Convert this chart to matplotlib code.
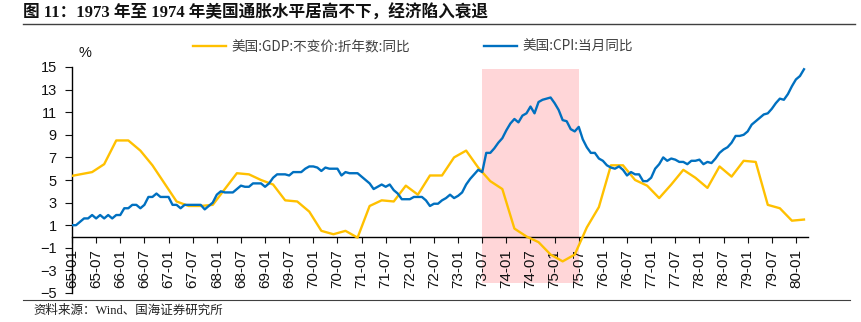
import matplotlib
matplotlib.use('Agg')
import matplotlib.pyplot as plt
from matplotlib.lines import Line2D

plt.rcParams['font.family'] = ['Liberation Sans', 'Noto Sans CJK SC', 'DejaVu Sans']
plt.rcParams['axes.unicode_minus'] = True

# fonts for the chinese text (title / legend / source)
cjk = ['Noto Sans CJK SC', 'DejaVu Sans']
serif_cjk = ['Liberation Serif', 'Noto Sans CJK SC', 'DejaVu Sans']

# us cpi, monthly yoy %, 1965-01 .. 1980-03 (one row per year)
cpi_yoy = [
    1.0, 1.0, 1.3, 1.6, 1.6, 1.9, 1.6, 1.9, 1.6, 1.9, 1.6, 1.9,
    1.9, 2.5, 2.5, 2.8, 2.8, 2.5, 2.8, 3.5, 3.5, 3.8, 3.5, 3.5,
    3.5, 2.8, 2.8, 2.5, 2.8, 2.8, 2.8, 2.8, 2.8, 2.4, 2.7, 3.0,
    3.7, 4.0, 3.9, 3.9, 3.9, 4.2, 4.5, 4.4, 4.4, 4.7, 4.7, 4.7,
    4.4, 4.7, 5.2, 5.5, 5.5, 5.5, 5.4, 5.7, 5.7, 5.7, 6.0, 6.2,
    6.2, 6.1, 5.8, 6.1, 6.0, 6.0, 6.0, 5.4, 5.7, 5.6, 5.6, 5.6,
    5.3, 5.0, 4.7, 4.2, 4.4, 4.6, 4.4, 4.6, 4.1, 3.8, 3.3, 3.3,
    3.3, 3.5, 3.5, 3.5, 3.2, 2.7, 2.9, 2.9, 3.2, 3.4, 3.7, 3.4,
    3.6, 3.9, 4.6, 5.1, 5.5, 5.9, 5.7, 7.4, 7.4, 7.8, 8.3, 8.7,
    9.4, 10.0, 10.4, 10.1, 10.7, 10.9, 11.5, 10.9, 11.9, 12.1, 12.2, 12.3,
    11.8, 11.2, 10.3, 10.2, 9.5, 9.3, 9.7, 8.6, 7.9, 7.4, 7.4, 6.9,
    6.7, 6.3, 6.1, 6.0, 6.2, 5.9, 5.4, 5.7, 5.5, 5.5, 4.9, 4.9,
    5.2, 6.0, 6.4, 7.0, 6.7, 6.9, 6.8, 6.6, 6.6, 6.4, 6.7, 6.7,
    6.8, 6.4, 6.6, 6.5, 6.9, 7.4, 7.7, 7.9, 8.3, 8.9, 8.9, 9.0,
    9.3, 9.9, 10.2, 10.5, 10.8, 10.9, 11.3, 11.8, 12.2, 12.1, 12.6, 13.3,
    13.9, 14.2, 14.8,
]

# us real gdp yoy %, quarterly (dated at quarter end)
gdp_dates = [
    '64-12',
    '65-03', '65-06', '65-09', '65-12',
    '66-03', '66-06', '66-09', '66-12',
    '67-03', '67-06', '67-09', '67-12',
    '68-03', '68-06', '68-09', '68-12',
    '69-03', '69-06', '69-09', '69-12',
    '70-03', '70-06', '70-09', '70-12',
    '71-03', '71-06', '71-09', '71-12',
    '72-03', '72-06', '72-09', '72-12',
    '73-03', '73-06', '73-09', '73-12',
    '74-03', '74-06', '74-09', '74-12',
    '75-03', '75-06', '75-09', '75-12',
    '76-03', '76-06', '76-09', '76-12',
    '77-03', '77-06', '77-09', '77-12',
    '78-03', '78-06', '78-09', '78-12',
    '79-03', '79-06', '79-09', '79-12',
    '80-03',
]
gdp_yoy = [
    5.3,
    5.5, 5.7, 6.4, 8.5,
    8.5, 7.6, 6.3, 4.7,
    3.1, 2.7, 2.7, 2.8,
    4.2, 5.6, 5.5, 5.0,
    4.6, 3.2, 3.1, 2.2,
    0.5, 0.2, 0.5, -0.1,
    2.7, 3.2, 3.1, 4.5,
    3.7, 5.4, 5.4, 7.0,
    7.6, 6.1, 4.9, 4.2,
    0.7, 0.0, -0.5, -1.6,
    -2.2, -1.6, 0.8, 2.6,
    6.3, 6.3, 5.0, 4.5,
    3.4, 4.6, 5.9, 5.2,
    4.3, 6.2, 5.3, 6.7,
    6.6, 2.8, 2.5, 1.4,
    1.5,
]

x_tick_labels = [
    '65-01', '65-07', '66-01', '66-07', '67-01', '67-07', '68-01', '68-07',
    '69-01', '69-07', '70-01', '70-07', '71-01', '71-07', '72-01', '72-07',
    '73-01', '73-07', '74-01', '74-07', '75-01', '75-07', '76-01', '76-07',
    '77-01', '77-07', '78-01', '78-07', '79-01', '79-07', '80-01',
]

# recession shading 73-07 .. 75-07
shade_start = '73-07'
shade_end = '75-07'
shade_low = -4.1
shade_high = 14.8


def month_index(label):
    # months since 1965-01
    yy, mm = label.split('-')
    return (int(yy) + 1900 - 1965) * 12 + int(mm) - 1


cpi_x = list(range(len(cpi_yoy)))
gdp_x = [month_index(d) for d in gdp_dates]

W, H = 861, 322
fig = plt.figure(figsize=(W / 100, H / 100), dpi=100)
ax = fig.add_axes([72 / W, 1 - 293 / H, (808 - 72) / W, (293 - 67) / H])

ax.fill_between([month_index(shade_start), month_index(shade_end)], shade_low, shade_high,
                color='#FFD6D8', lw=0, zorder=0)
gdp_line, = ax.plot(gdp_x, gdp_yoy, color='#FFC000', lw=1.7, zorder=3)
cpi_line, = ax.plot(cpi_x, cpi_yoy, color='#0070C0', lw=1.7, zorder=4)

# spine has to be moved before the tick labels are styled (moving it resets them)
ax.spines['top'].set_visible(False)
ax.spines['right'].set_visible(False)
ax.spines['bottom'].set_position(('data', 0))
ax.spines['left'].set_linewidth(1.0)
ax.spines['bottom'].set_linewidth(1.0)

ax.set_xlim(0, 183)
ax.set_ylim(-5, 15)
ax.set_yticks(range(-5, 16, 2))
ax.set_xticks([month_index(t) for t in x_tick_labels])
ax.set_xticklabels(x_tick_labels)
ax.tick_params(axis='x', direction='out', length=4, pad=5, labelsize=11,
               labelrotation=90, colors='#111111')
ax.tick_params(axis='y', direction='out', length=5, pad=6, labelsize=10.5, colors='#111111')

fig.text(85 / W, 1 - 53 / H, '%', fontsize=10.5, ha='center', va='center', color='#111111')

# two legend entries placed side by side above the plot
leg_kw = dict(loc='center left', bbox_transform=fig.transFigure, frameon=False,
              borderpad=0, borderaxespad=0, handlelength=2.4, handletextpad=0.45,
              prop={'family': cjk, 'size': 9.8}, labelcolor='#404040')
leg1 = ax.legend([gdp_line], ['美国:GDP:不变价:折年数:同比'],
                 bbox_to_anchor=(193 / W, 1 - 47 / H), **leg_kw)
ax.add_artist(leg1)
ax.legend([cpi_line], ['美国:CPI:当月同比'],
          bbox_to_anchor=(484 / W, 1 - 47 / H), **leg_kw)

# title, rules and source note
fig.text(23 / W, 1 - 13.5 / H, '图 11：1973 年至 1974 年美国通胀水平居高不下，经济陷入衰退',
         fontsize=12, fontweight='bold', family=serif_cjk, va='center', color='#111111')
fig.add_artist(Line2D([23 / W, 855 / W], [1 - 24 / H] * 2, color='#404040', lw=1.0))
fig.add_artist(Line2D([23 / W, 850 / W], [1 - 300 / H] * 2, color='#404040', lw=0.8))
fig.text(33 / W, 1 - 311 / H, '资料来源：Wind、国海证券研究所',
         fontsize=9, family=serif_cjk, va='center', color='#202020')

fig.savefig('out.png', dpi=100)
plt.close(fig)
